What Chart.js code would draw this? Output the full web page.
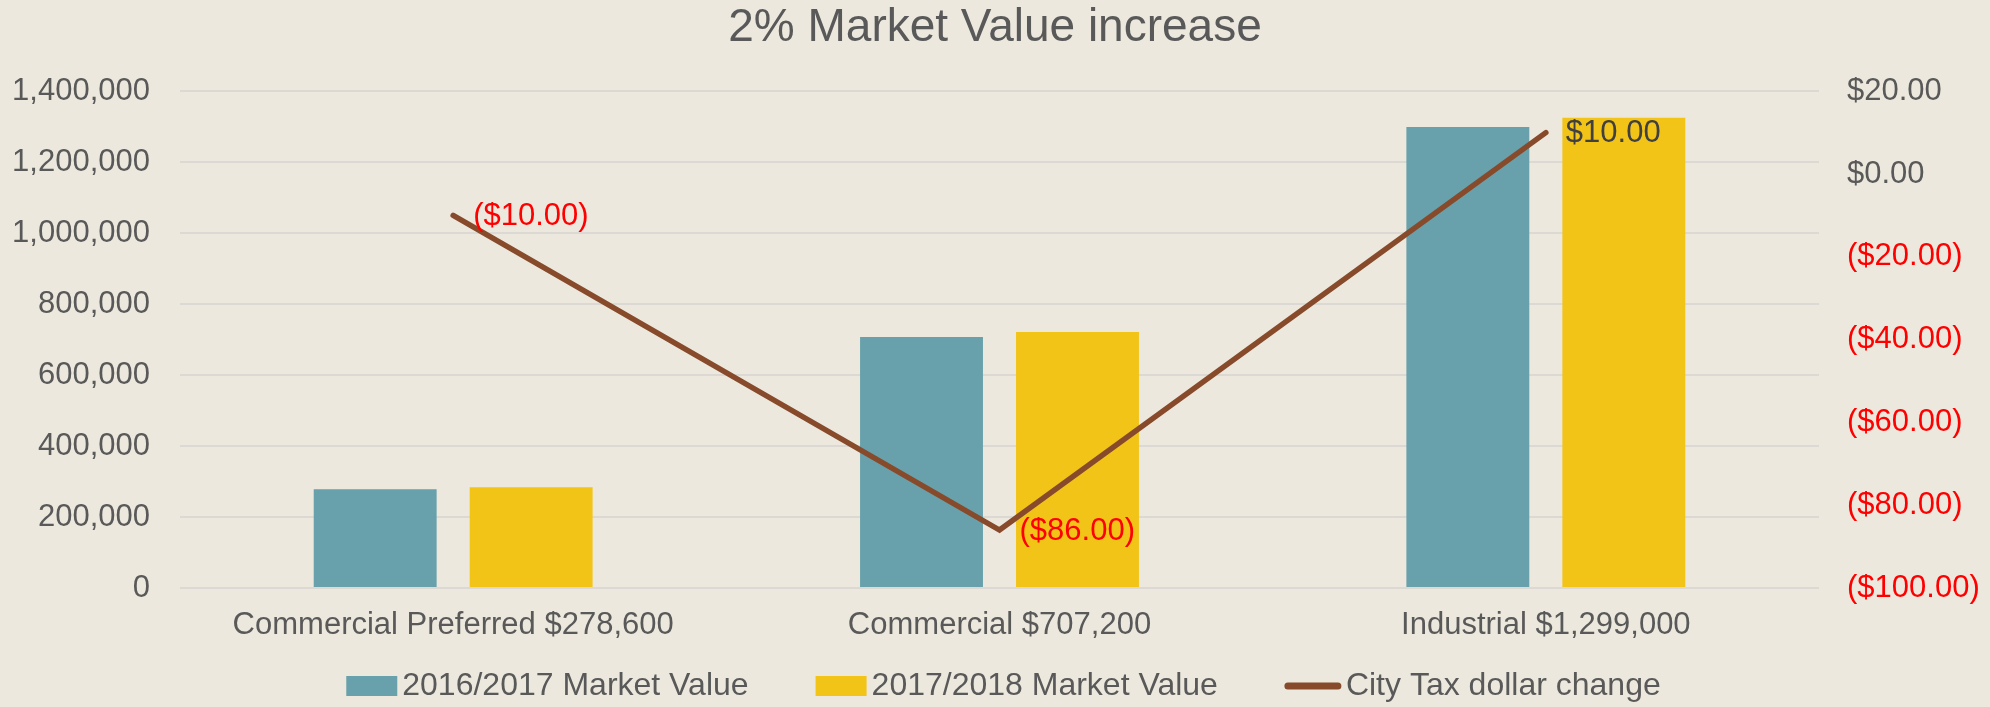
<!DOCTYPE html>
<html>
<head>
<meta charset="utf-8">
<script src="https://cdn.jsdelivr.net/npm/chart.js@4"></script>
<style>
  html, body { margin: 0; padding: 0; background: #ECE8DD; }
  #wrap { width: 1990px; height: 707px; }
</style>
</head>
<body>
<div id="wrap"><canvas id="c" width="1990" height="707"></canvas></div>
<script>
const categories = ['Commercial Preferred $278,600', 'Commercial $707,200', 'Industrial $1,299,000'];
const seriesNames = ['2016/2017 Market Value', '2017/2018 Market Value', 'City Tax dollar change'];
const marketValue2016 = [278600, 707200, 1299000];
const marketValue2017 = [284172, 721344, 1324980];
const taxChange = [-10, -86, 10];
const leftAxis = { min: 0, max: 1400000, step: 200000 };
const rightAxis = { min: -100, max: 20, step: 20 };

const FONT = "'Liberation Sans', Arial, sans-serif";
const TEXT = '#595959';
const RED = '#FF0000';
const TEAL = '#68A1AB';
const GOLD = '#F2C418';
const BROWN = '#874A2B';

function money(v) {
  const s = '$' + Math.abs(v).toFixed(2);
  return v < 0 ? '(' + s + ')' : s;
}

const labelPlugin = {
  id: 'lineLabels',
  afterDatasetsDraw(chart) {
    const meta = chart.getDatasetMeta(2);
    const ctx = chart.ctx;
    ctx.save();
    ctx.font = '31px ' + FONT;
    ctx.textAlign = 'left';
    ctx.textBaseline = 'middle';
    meta.data.forEach((pt, i) => {
      const v = taxChange[i];
      ctx.fillStyle = v < 0 ? RED : '#404040';
      ctx.fillText(money(v), pt.x + 20, pt.y + 1);
    });
    ctx.restore();
  }
};

const legendPlugin = {
  id: 'customLegend',
  afterDraw(chart) {
    const ctx = chart.ctx;
    ctx.save();
    ctx.font = '32px ' + FONT;
    ctx.textBaseline = 'middle';
    ctx.textAlign = 'left';
    const items = chart.data.datasets.map(ds => ({
      text: ds.label, type: ds.type || 'bar',
      color: ds.type === 'line' ? ds.borderColor : ds.backgroundColor
    }));
    const gap = 5, spacing = 67;
    const widths = items.map(it => (it.type === 'line' ? 56 : 51) + gap + ctx.measureText(it.text).width);
    const total = widths.reduce((a, b) => a + b, 0) + spacing * (items.length - 1);
    const cx = (chart.chartArea.left + chart.chartArea.right) / 2 + 4;
    let x = cx - total / 2;
    const y = 686;
    items.forEach((it, i) => {
      if (it.type === 'line') {
        ctx.strokeStyle = it.color;
        ctx.lineWidth = 7;
        ctx.lineCap = 'round';
        ctx.beginPath();
        ctx.moveTo(x + 3, y);
        ctx.lineTo(x + 53, y);
        ctx.stroke();
        x += 56;
      } else {
        ctx.fillStyle = it.color;
        ctx.fillRect(x, y - 10, 51, 20);
        x += 51;
      }
      x += gap;
      ctx.fillStyle = TEXT;
      ctx.fillText(it.text, x, y);
      x += ctx.measureText(it.text).width + spacing;
    });
    ctx.restore();
  }
};

const bgPlugin = {
  id: 'bg',
  beforeDraw(chart) {
    const ctx = chart.ctx;
    ctx.save();
    ctx.fillStyle = '#ECE8DD';
    ctx.fillRect(0, 0, chart.width, chart.height);
    ctx.restore();
  }
};

new Chart(document.getElementById('c'), {
  data: {
    labels: categories,
    datasets: [
      { type: 'bar', label: seriesNames[0], data: marketValue2016, backgroundColor: TEAL, yAxisID: 'y', order: 2,
        categoryPercentage: 0.571, barPercentage: 0.788 },
      { type: 'bar', label: seriesNames[1], data: marketValue2017, backgroundColor: GOLD, yAxisID: 'y', order: 2,
        categoryPercentage: 0.571, barPercentage: 0.788 },
      { type: 'line', label: seriesNames[2], data: taxChange, borderColor: BROWN, backgroundColor: BROWN,
        borderWidth: 5.5, pointRadius: 0, tension: 0, yAxisID: 'y1', order: 0, borderCapStyle: 'round' }
    ]
  },
  options: {
    responsive: false,
    animation: false,
    devicePixelRatio: 1,
    layout: { padding: { top: 0, bottom: 63, left: 0, right: 0 } },
    plugins: {
      legend: { display: false },
      tooltip: { enabled: false },
      title: {
        display: true, text: '2% Market Value increase', color: TEXT,
        font: { family: FONT, size: 46, weight: 'normal' },
        padding: { top: 1, bottom: 35 }
      }
    },
    scales: {
      x: {
        grid: { display: false, drawTicks: false },
        border: { display: false },
        ticks: { color: TEXT, font: { family: FONT, size: 31 }, padding: 19, maxRotation: 0, autoSkip: false },
        afterFit(s) { s.height = 56; }
      },
      y: {
        position: 'left', min: leftAxis.min, max: leftAxis.max,
        grid: { color: '#DCD9D5', lineWidth: 2, drawTicks: false },
        border: { display: false },
        ticks: { stepSize: leftAxis.step, color: TEXT, font: { family: FONT, size: 31 }, padding: 30,
          callback: v => v.toLocaleString('en-US') },
        afterFit(s) { s.width = 180; }
      },
      y1: {
        position: 'right', min: rightAxis.min, max: rightAxis.max,
        grid: { display: false, drawTicks: false },
        border: { display: false },
        ticks: { stepSize: rightAxis.step, font: { family: FONT, size: 31 }, padding: 28,
          color: ctx => (ctx.tick && ctx.tick.value < 0) ? RED : TEXT,
          callback: v => money(v) },
        afterFit(s) { s.width = 171; }
      }
    }
  },
  plugins: [bgPlugin, labelPlugin, legendPlugin]
});
</script>
</body>
</html>
